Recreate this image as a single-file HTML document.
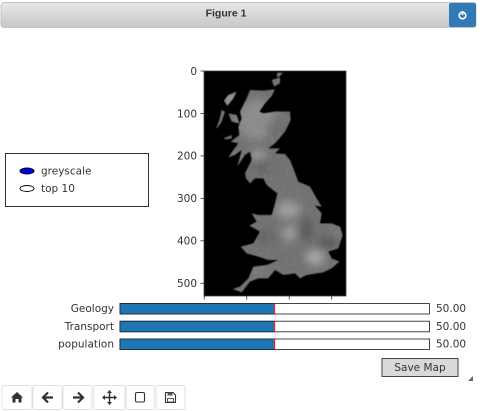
<!DOCTYPE html>
<html>
<head>
<meta charset="utf-8">
<title>Figure 1</title>
<style>
html,body{margin:0;padding:0;background:#fff;}
body{width:495px;height:411px;overflow:hidden;position:relative;}
svg{position:absolute;left:0;top:0;}
text{font-family:"DejaVu Sans","Liberation Sans",sans-serif;font-size:10.5px;fill:#333;}
</style>
</head>
<body>
<svg id="fig" width="495" height="411" viewBox="0 0 495 411" xmlns="http://www.w3.org/2000/svg">
<defs>
<linearGradient id="titleGrad" x1="0" y1="0" x2="0" y2="1"><stop offset="0" stop-color="#e8e8e8"/><stop offset="1" stop-color="#c6c6c6"/></linearGradient>
<filter id="soft" x="-5%" y="-5%" width="110%" height="110%"><feGaussianBlur stdDeviation="0.35"/></filter>
<filter id="mapEdge" x="-5%" y="-5%" width="110%" height="110%"><feGaussianBlur stdDeviation="1.5"/></filter>
<filter id="blob" x="-80%" y="-80%" width="260%" height="260%"><feGaussianBlur stdDeviation="13"/></filter>
<filter id="speckle" x="0" y="0" width="100%" height="100%">
<feTurbulence type="fractalNoise" baseFrequency="0.09" numOctaves="2" seed="4"/>
<feColorMatrix type="matrix" values="0 0 0 0 1  0 0 0 0 1  0 0 0 0 1  1.6 0 0 0 -0.72"/>
</filter>
<clipPath id="gbClip">
<path d="M225 58 L215 78 L195 100 L178 125 L190 130 L230 124 L270 125 L272 150 L255 185 L225 220 L205 235 L240 235 L225 250 L255 252 L270 270 L282 300 L295 335 L330 350 L350 385 L365 410 L345 407 L365 430 L360 460 L395 460 L420 470 L428 495 L415 535 L385 545 L395 565 L418 575 L395 595 L370 607 L320 615 L300 625 L285 610 L250 615 L225 600 L205 625 L175 625 L150 635 L125 667 L98 657 L120 650 L145 625 L160 590 L200 585 L235 570 L205 570 L175 560 L140 550 L122 530 L160 520 L180 485 L148 467 L170 455 L155 430 L175 435 L215 435 L225 400 L232 370 L200 345 L190 325 L165 325 L150 340 L138 325 L135 310 L155 270 L150 245 L135 255 L112 290 L125 240 L105 255 L85 262 L100 240 L115 220 L92 215 L118 195 L115 170 L125 145 L120 125 L130 105 L140 85 L150 60 L190 62 Z"/>
<path d="M110 65 L85 75 L72 92 L82 108 L100 85 Z"/>
<path d="M65 120 L75 125 L65 155 L55 170 L48 177 L58 150 Z"/>
<path d="M85 130 L110 135 L118 160 L95 155 Z"/>
<path d="M70 205 L95 195 L95 205 L78 208 Z"/>
<path d="M215 30 L240 22 L240 40 L222 50 Z"/>
<path d="M232 8 L250 8 L235 22 L230 18 Z"/>
</clipPath>
</defs>

<g filter="url(#soft)">
<rect x="1" y="2.5" width="475" height="25" rx="3" fill="url(#titleGrad)" stroke="#c4c4c4"/>
<text x="226" y="16.5" text-anchor="middle" style="font-family:'Liberation Sans',sans-serif;font-weight:bold;font-size:10.5px;fill:#333">Figure 1</text>
<g>
<rect x="449" y="3" width="27" height="24" rx="2" fill="#337ab7"/>
<circle cx="462.500" cy="15.500" r="3.300" fill="none" stroke="#fff" stroke-width="1.600"/>
<line x1="462.500" y1="11" x2="462.500" y2="15" stroke="#fff" stroke-width="1.600"/>
</g>
</g>

<g filter="url(#soft)">
<rect id="mapFrame" x="204" y="71" width="142" height="225" fill="#000"/>
<g transform="translate(200 70) scale(.33333)" filter="url(#mapEdge)">
<g clip-path="url(#gbClip)">
<rect x="30" y="0" width="420" height="680" fill="#727272"/>
<ellipse cx="170" cy="150" rx="60" ry="60" fill="#8c8c8c" filter="url(#blob)"/>
<ellipse cx="90" cy="85" rx="22" ry="25" fill="#989898" filter="url(#blob)"/>
<ellipse cx="240" cy="180" rx="40" ry="30" fill="#707070" filter="url(#blob)"/>
<ellipse cx="175" cy="255" rx="22" ry="12" fill="#a8a8a8" filter="url(#blob)"/>
<ellipse cx="185" cy="295" rx="30" ry="12" fill="#5e5e5e" filter="url(#blob)"/>
<ellipse cx="265" cy="420" rx="36" ry="26" fill="#9e9e9e" filter="url(#blob)"/>
<ellipse cx="268" cy="490" rx="24" ry="24" fill="#9a9a9a" filter="url(#blob)"/>
<ellipse cx="345" cy="562" rx="28" ry="24" fill="#a6a6a6" filter="url(#blob)"/>
<ellipse cx="385" cy="515" rx="28" ry="16" fill="#545454" filter="url(#blob)"/>
<ellipse cx="320" cy="480" rx="14" ry="36" fill="#525252" filter="url(#blob)"/>
<ellipse cx="195" cy="500" rx="30" ry="25" fill="#666" filter="url(#blob)"/>
<ellipse cx="175" cy="600" rx="30" ry="10" fill="#808080" filter="url(#blob)"/>
<ellipse cx="410" cy="490" rx="12" ry="12" fill="#858585" filter="url(#blob)"/>
<rect x="30" y="0" width="420" height="680" filter="url(#speckle)" opacity="0.1"/>
</g>
</g>
<rect x="204" y="71" width="142" height="225" fill="none" stroke="#444" stroke-width="0.800"/>
<g id="yAxis"></g>
<g id="xAxis"></g>
</g>

<g filter="url(#soft)">
<rect x="5.500" y="153.500" width="143" height="53" fill="#fff" stroke="#333"/>
<g>
<ellipse cx="27" cy="171" rx="7" ry="3" fill="#0000ee" stroke="#000" stroke-width="0.900"/>
<text x="41" y="174.500">greyscale</text>
</g>
<g>
<ellipse cx="27" cy="188.500" rx="7" ry="3" fill="#fff" stroke="#000" stroke-width="0.900"/>
<text x="41" y="192">top 10</text>
</g>
</g>

<g id="sliders" filter="url(#soft)"></g>

<g filter="url(#soft)">
<rect x="382" y="358.500" width="76" height="18" fill="#d9d9d9" stroke="#444"/>
<text x="420" y="371" text-anchor="middle">Save Map</text>
</g>
<path d="M473 376 L473 381 L468 381 Z" fill="#666" filter="url(#soft)"/>

<g filter="url(#soft)">
<g>
<rect x="2" y="385.500" width="30" height="24" rx="2" fill="#fff" stroke="#e2e2e2"/>
<path d="M17 392 L23 397.500 L21.500 397.500 L21.500 402.500 L18.500 402.500 L18.500 399 L15.500 399 L15.500 402.500 L12.500 402.500 L12.500 397.500 L11 397.500 Z" fill="#333"/>
</g>
<g>
<rect x="33" y="385.500" width="29" height="24" rx="2" fill="#fff" stroke="#e2e2e2"/>
<path d="M53 397.500 H44 M48 392.500 L43 397.500 L48 402.500" fill="none" stroke="#333" stroke-width="2.200"/>
</g>
<g>
<rect x="63" y="385.500" width="29" height="24" rx="2" fill="#fff" stroke="#e2e2e2"/>
<path d="M73 397.500 H82 M78 392.500 L83 397.500 L78 402.500" fill="none" stroke="#333" stroke-width="2.200"/>
</g>
<g>
<rect x="94" y="385.500" width="31" height="24" rx="2" fill="#fff" stroke="#e2e2e2"/>
<path d="M109.500 391 V404 M103 397.500 H116" stroke="#333" stroke-width="1.500"/>
<path d="M109.500 390 L112 393 H107 Z M109.500 405 L112 402 H107 Z M102 397.500 L105 395 V400 Z M117 397.500 L114 395 V400 Z" fill="#333"/>
</g>
<g>
<rect x="126" y="385.500" width="28" height="24" rx="2" fill="#fff" stroke="#e2e2e2"/>
<rect x="135.500" y="392.500" width="9" height="9.500" rx="1.500" fill="none" stroke="#333" stroke-width="1.100"/>
</g>
<g>
<rect x="156" y="385.500" width="29" height="24" rx="2" fill="#fff" stroke="#e2e2e2"/>
<path d="M165.500 392.500 H173 L175.500 395 V402.500 H165.500 Z" fill="none" stroke="#333" stroke-width="1.100"/>
<rect x="167.500" y="392.500" width="5" height="3" fill="#555"/>
<rect x="167.500" y="398.500" width="6" height="3.500" fill="none" stroke="#333" stroke-width="0.800"/>
</g>
</g>
</svg>
<script>
var yTickLabels = [0, 100, 200, 300, 400, 500];
var xTickValues = [0, 100, 200, 300];
var sliderNames = ["Geology", "Transport", "population"];
var sliderValues = [50, 50, 50];

var NS = "http://www.w3.org/2000/svg";
function yScale(v) { return 71 + v * 0.4245; }
function xScale(v) { return 204.3 + v * 0.4245; }
function sliderX(v) { return 120 + (v / 100) * 309; }
function sliderY(i) { return 303.5 + i * 17.75; }
function make(tag, attrs, parent) {
  var el = document.createElementNS(NS, tag);
  for (var k in attrs) el.setAttribute(k, attrs[k]);
  parent.appendChild(el);
  return el;
}

var yAxis = document.getElementById("yAxis");
yTickLabels.forEach(function (v) {
  var t = make("line", { x1: 200.5, x2: 204, y1: yScale(v), y2: yScale(v), stroke: "#333", "stroke-width": 0.8 }, yAxis);
  
  
  var l = make("text", { x: 197, y: yScale(v) + 3.8, "text-anchor": "end" }, yAxis);
  
  
  l.textContent = v;
});

var xAxis = document.getElementById("xAxis");
xTickValues.forEach(function (v) {
  var t = make("line", { x1: xScale(v), x2: xScale(v), y1: 296, y2: 299.5, stroke: "#333", "stroke-width": 0.8 }, xAxis);
  
  
});

var sliders = document.getElementById("sliders");
sliderNames.forEach(function (name, i) {
  var y = sliderY(i), h = 10.5, v = sliderValues[i];
  var g = make("g", {}, sliders);
  
  
  var label = make("text", { x: 114, y: y + 8.5, "text-anchor": "end" }, g);
  
  
  label.textContent = name;
  var track = make("rect", { x: 120, y: y, width: 309.5, height: h, fill: "#fff", stroke: "#444" }, g);
  
  
  var fill = make("rect", { x: 120, y: y, width: sliderX(v) - 120, height: h, fill: "#1f77b4", stroke: "#223", "stroke-width": 0.8 }, g);
  
  
  var mark = make("line", { x1: sliderX(v), x2: sliderX(v), y1: y, y2: y + h, stroke: "#f02020", "stroke-width": 1.3 }, g);
  
  
  var val = make("text", { x: 436, y: y + 8.5 }, g);
  
  
  val.textContent = v.toFixed(2);
});
</script>
</body>
</html>
